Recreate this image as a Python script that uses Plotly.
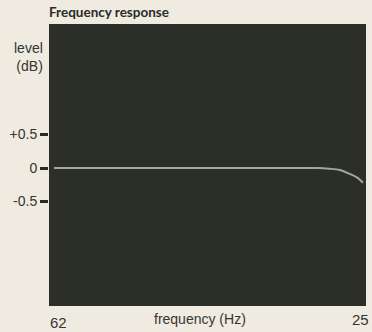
import plotly.graph_objects as go
import math

freq_hz = [68, 100, 200, 500, 1000, 2000, 5000, 10000, 12400, 15300, 18500, 21500, 23600]
level_db = [0, 0, 0, 0, 0, 0, 0, 0, -0.01, -0.03, -0.09, -0.15, -0.22]
y_ticks = [0.5, 0, -0.5]
y_tick_labels = ["+0.5", "0", "-0.5"]
x_min_label, x_max_label = "62", "25"
x_min, x_max = 62, 25000

fig = go.Figure()
fig.add_trace(go.Scatter(x=freq_hz, y=level_db, mode="lines",
                         line=dict(color="#a3a898", width=2, shape="spline"),
                         hoverinfo="skip", showlegend=False))

txt = dict(family="Liberation Sans, Arial, sans-serif", size=14, color="#353535")

fig.update_layout(
    width=372, height=332,
    margin=dict(l=49, r=6, t=24, b=26),
    paper_bgcolor="#efebe0",
    plot_bgcolor="#2b2f27",
    font=txt,
    xaxis=dict(type="log", range=[math.log10(x_min), math.log10(x_max)],
               showgrid=False, zeroline=False, showticklabels=False, ticks=""),
    yaxis=dict(range=[-2.06, 2.15], tickvals=y_ticks, ticktext=y_tick_labels,
               ticks="outside", ticklen=8, tickwidth=3, tickcolor="#2a2a2a",
               showgrid=False, zeroline=False, tickfont=txt),
    annotations=[
        dict(text="<b>Frequency response</b>", xref="paper", yref="paper", x=0, y=1,
             xanchor="left", yanchor="bottom", xshift=-2, yshift=2, showarrow=False,
             font=dict(family="Lato, sans-serif", size=13.5, color="#2a2a2a")),
        dict(text="level<br>(dB)", xref="paper", yref="paper", x=0, y=0.883,
             xanchor="right", yanchor="middle", xshift=-4, align="right", showarrow=False,
             font=txt),
        dict(text=x_min_label, xref="paper", yref="paper", x=0, y=0,
             xanchor="left", yanchor="top", xshift=-1, yshift=-6, showarrow=False,
             font=dict(family=txt["family"], size=15, color="#353535")),
        dict(text="frequency (Hz)", xref="paper", yref="paper", x=0.475, y=0,
             xanchor="center", yanchor="top", yshift=-3, showarrow=False,
             font=txt),
        dict(text=x_max_label, xref="paper", yref="paper", x=1, y=0,
             xanchor="right", yanchor="top", xshift=5, yshift=-3, showarrow=False,
             font=dict(family=txt["family"], size=15, color="#353535")),
    ],
)

fig.write_html("out.html", config={"displayModeBar": False},
               post_script="document.body.style.margin='0';document.body.style.overflow='hidden';")
